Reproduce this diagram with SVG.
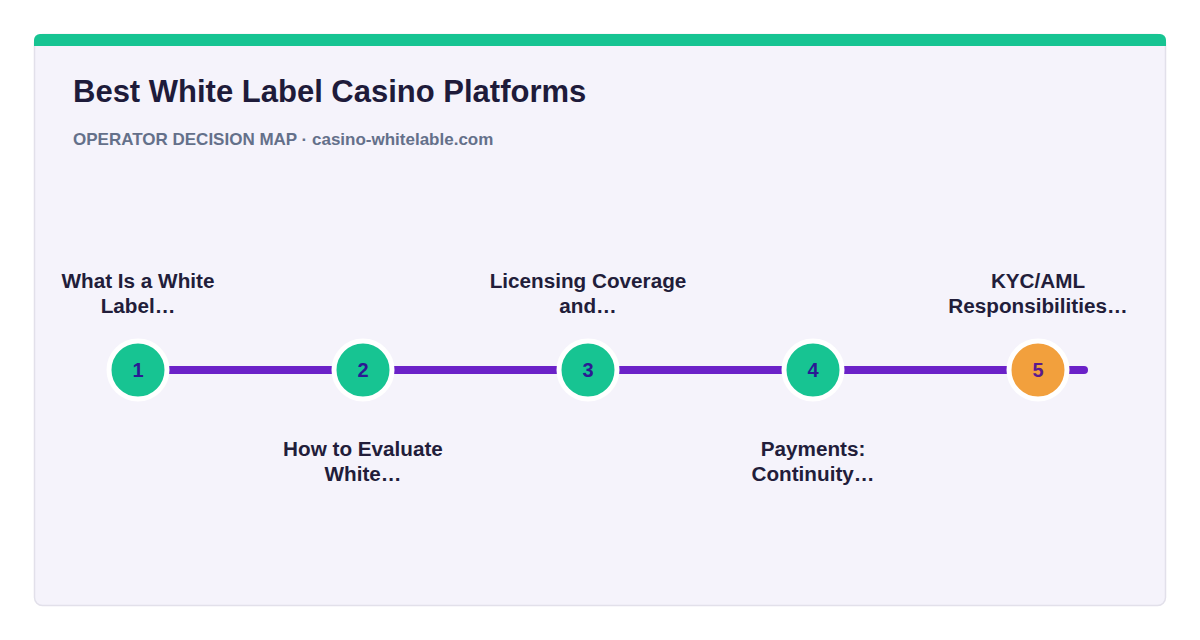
<svg xmlns="http://www.w3.org/2000/svg" width="1200" height="640" viewBox="0 0 1200 640">
<defs>
<clipPath id="cardClip"><rect x="34" y="34" width="1132" height="572" rx="6"/></clipPath>
</defs>
<style>
.lbl{font-family:"Liberation Sans",Arial,sans-serif;font-weight:bold;font-size:20.7px;fill:#221d3a;text-anchor:middle}
.num{font-family:"Liberation Sans",Arial,sans-serif;font-weight:bold;font-size:20px;fill:#2b1a93;text-anchor:middle}
.dot{stroke:#ffffff;stroke-width:5}
.done{fill:#17c492}
.cur{fill:#f2a03d}
</style>
<rect width="1200" height="640" fill="#ffffff"/>
<g id="card">
<rect x="34.5" y="34.5" width="1131" height="571" rx="8" fill="#f5f3fb" stroke="#e2e0ea" stroke-width="1.5"/>
<rect x="34" y="34" width="1132" height="12" fill="#17c492" clip-path="url(#cardClip)"/>
<text x="73" y="102" font-family="Liberation Sans, Arial, sans-serif" font-weight="bold" font-size="31" fill="#1e1b3a">Best White Label Casino Platforms</text>
<text x="73" y="145" font-family="Liberation Sans, Arial, sans-serif" font-weight="bold" font-size="17" fill="#64708a">OPERATOR DECISION MAP · casino-whitelable.com</text>
</g>
<g id="connectors">
<line x1="138" y1="370" x2="1084" y2="370" stroke="#6b21c8" stroke-width="8" stroke-linecap="round"/>
</g>
<g id="node1">
<circle class="dot done" cx="138" cy="370" r="29"/>
<text class="num" x="138" y="377">1</text>
<text class="lbl" x="138" y="288">What Is a White</text>
<text class="lbl" x="138" y="313">Label…</text>
</g>
<g id="node2">
<circle class="dot done" cx="363" cy="370" r="29"/>
<text class="num" x="363" y="377">2</text>
<text class="lbl" x="363" y="456">How to Evaluate</text>
<text class="lbl" x="363" y="481">White…</text>
</g>
<g id="node3">
<circle class="dot done" cx="588" cy="370" r="29"/>
<text class="num" x="588" y="377">3</text>
<text class="lbl" x="588" y="288">Licensing Coverage</text>
<text class="lbl" x="588" y="313">and…</text>
</g>
<g id="node4">
<circle class="dot done" cx="813" cy="370" r="29"/>
<text class="num" x="813" y="377">4</text>
<text class="lbl" x="813" y="456">Payments:</text>
<text class="lbl" x="813" y="481">Continuity…</text>
</g>
<g id="node5">
<circle class="dot cur" cx="1038" cy="370" r="29"/>
<text class="num" x="1038" y="377" style="fill:#5a1a8e">5</text>
<text class="lbl" x="1038" y="288">KYC/AML</text>
<text class="lbl" x="1038" y="313">Responsibilities…</text>
</g>
</svg>
